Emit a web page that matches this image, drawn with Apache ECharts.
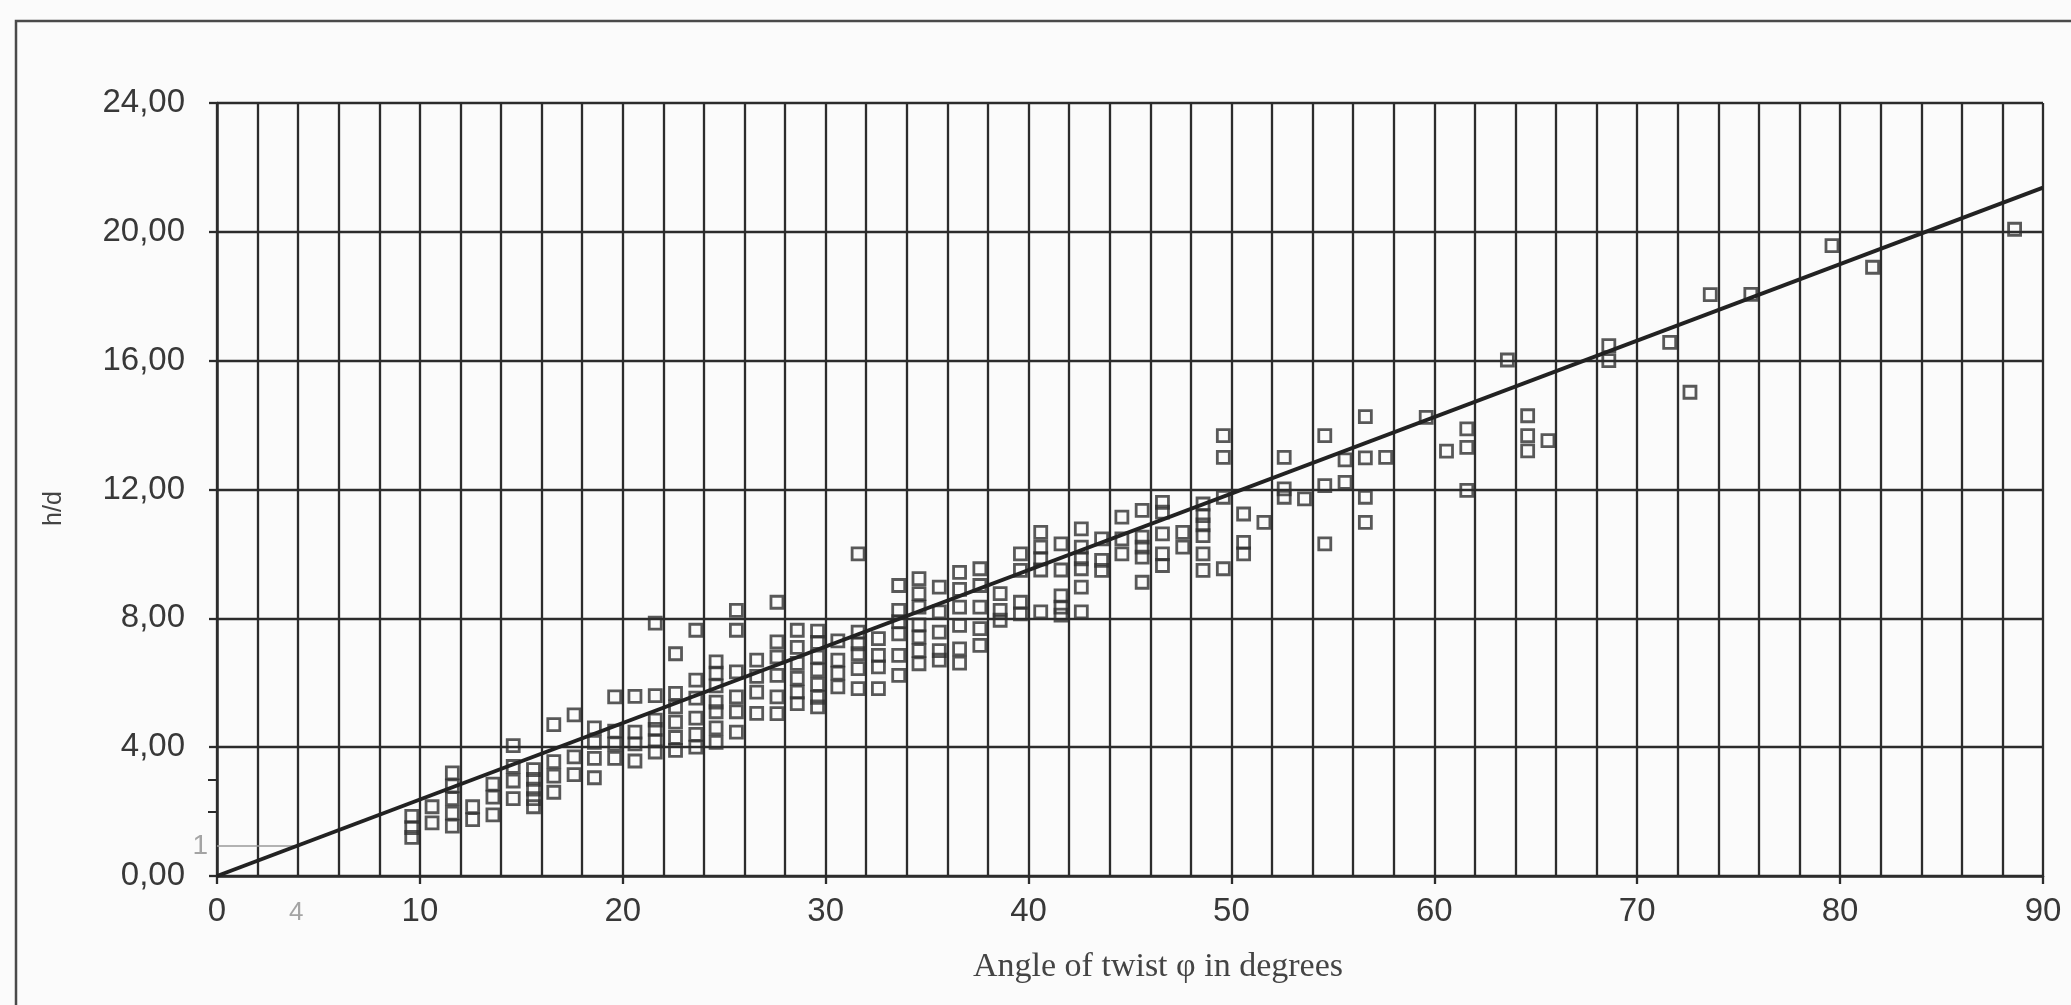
<!DOCTYPE html>
<html>
<head>
<meta charset="utf-8">
<script src="https://cdn.jsdelivr.net/npm/echarts@6/dist/echarts.min.js"></script>
<style>
html,body{margin:0;padding:0;background:#fbfbfb;}
#c{width:2071px;height:1005px;}
</style>
</head>
<body>
<div id="c"></div>
<script>
// Angle of twist (degrees) of each measured column of points
const columnAngles = [9.6, 10.6, 11.6, 12.6, 13.6, 14.6, 15.6, 16.6, 17.6, 18.6,
  19.6, 20.6, 21.6, 22.6, 23.6, 24.6, 25.6, 26.6, 27.6, 28.6,
  29.6, 30.6, 31.6, 32.6, 33.6, 34.6, 35.6, 36.6, 37.6, 38.6,
  39.6, 40.6, 41.6, 42.6, 43.6, 44.6, 45.6, 46.6, 47.6, 48.6,
  49.6, 50.6, 51.6, 52.6, 53.6, 54.6, 55.6, 56.6, 57.6, 59.6,
  60.6, 61.6, 63.6, 64.6, 65.6, 68.6, 71.6, 72.6, 73.6, 75.6,
  79.6, 81.6, 88.6];
// h/d values measured at each angle above
const columnHd = [
  [1.2, 1.5, 1.85],
  [2.15, 1.65],
  [3.2, 2.8, 2.4, 1.95, 1.55],
  [2.15, 1.75],
  [2.85, 2.45, 1.9],
  [4.05, 3.4, 2.95, 2.4],
  [3.3, 3.0, 2.7, 2.4, 2.15],
  [4.7, 3.55, 3.1, 2.6],
  [5.0, 3.7, 3.15],
  [4.6, 4.15, 3.65, 3.05],
  [5.56, 4.5, 4.1, 3.65],
  [5.58, 4.47, 4.1, 3.57],
  [7.85, 5.6, 4.84, 4.55, 4.2, 3.85],
  [6.9, 5.67, 5.25, 4.78, 4.3, 3.9],
  [7.63, 6.08, 5.52, 4.9, 4.4, 4.0],
  [6.65, 6.3, 5.9, 5.4, 5.1, 4.6, 4.15],
  [8.25, 7.63, 6.34, 5.56, 5.1, 4.47],
  [6.7, 6.2, 5.71, 5.05],
  [8.5, 7.27, 6.8, 6.23, 5.56, 5.04],
  [7.63, 7.1, 6.6, 6.14, 5.71, 5.35],
  [7.6, 7.25, 6.8, 6.4, 5.95, 5.55, 5.25],
  [7.3, 6.7, 6.3, 5.87],
  [10.0, 7.57, 7.21, 6.9, 6.44, 5.82],
  [7.37, 6.85, 6.49, 5.82],
  [9.02, 8.25, 7.9, 7.52, 6.85, 6.23],
  [9.23, 8.77, 8.35, 7.8, 7.42, 7.0, 6.59],
  [8.97, 8.2, 7.57, 7.0, 6.7],
  [9.43, 8.9, 8.35, 7.78, 7.05, 6.61],
  [9.54, 9.02, 8.35, 7.68, 7.16],
  [8.77, 8.25, 7.94],
  [10.0, 9.49, 8.5, 8.14],
  [10.67, 10.21, 9.85, 9.5, 8.2],
  [10.31, 9.5, 8.7, 8.35, 8.1],
  [10.78, 10.21, 9.85, 9.54, 8.97, 8.2],
  [10.47, 9.8, 9.49],
  [11.14, 10.47, 10.0],
  [11.35, 10.52, 10.21, 9.9, 9.12],
  [11.6, 11.3, 10.62, 10.0, 9.64],
  [10.67, 10.21],
  [11.55, 11.19, 10.9, 10.57, 10.0, 9.49],
  [13.67, 13.0, 11.76, 9.54],
  [11.24, 10.36, 10.0],
  [10.98],
  [13.0, 12.02, 11.76],
  [11.71],
  [13.67, 12.12, 10.31],
  [12.92, 12.22],
  [14.26, 12.98, 11.76, 10.98],
  [13.0],
  [14.24],
  [13.19],
  [13.88, 13.31, 11.97],
  [16.02],
  [14.29, 13.67, 13.2],
  [13.52],
  [16.47, 16.0],
  [16.57],
  [15.02],
  [18.05],
  [18.06],
  [19.57],
  [18.9],
  [20.08]
];
// Fitted straight line (end points)
const fitLine = [[0, 0], [90, 21.37]];
// Thin grey reading guide: h/d = 1 at an angle of about 4 degrees
const guideLine = [[0, 0.93], [3.85, 0.93]];
const guideLabels = [
  { value: [0, 0.93], name: '1', where: 'left' },
  { value: [3.9, 0], name: '4', where: 'bottom' }
];
const yMinorTicks = [2, 3];
const xTitle = 'Angle of twist \u03c6 in degrees';
const yTitle = 'h/d';

const points = [];
columnAngles.forEach((a, i) => columnHd[i].forEach(v => points.push([a, v])));

const gridColor = '#2c2c2c';
const labelColor = '#383838';

const chart = echarts.init(document.getElementById('c'), null, { renderer: 'canvas' });
chart.setOption({
  backgroundColor: '#fbfbfb',
  animation: false,
  graphic: [{
    type: 'rect', silent: true, z: -10,
    shape: { x: 16, y: 21, width: 2100, height: 1100 },
    style: { fill: 'none', stroke: '#4a4a4a', lineWidth: 2.5 }
  }],
  grid: { left: 217, right: 28, top: 103, bottom: 129 },
  xAxis: [{
    type: 'value', min: 0, max: 90, interval: 2,
    axisLine: { show: true, onZero: false, lineStyle: { color: gridColor, width: 2.5 } },
    axisTick: { show: false },
    axisLabel: { show: false },
    splitLine: { show: true, lineStyle: { color: gridColor, width: 2.3 } }
  }, {
    type: 'value', min: 0, max: 90, interval: 10, position: 'bottom',
    axisLine: { show: false },
    axisTick: { show: true, inside: false, length: 8, lineStyle: { color: gridColor, width: 2.3 } },
    axisLabel: { show: true, margin: 19, fontFamily: 'Liberation Sans', fontSize: 33, color: labelColor },
    splitLine: { show: false },
    name: xTitle, nameLocation: 'middle', nameGap: 74,
    nameTextStyle: { fontFamily: 'Liberation Serif', fontSize: 34, color: '#444', padding: [0, 0, 0, 56] }
  }],
  yAxis: [{
    type: 'value', min: 0, max: 24, interval: 4,
    axisLine: { show: true, onZero: false, lineStyle: { color: gridColor, width: 2.5 } },
    axisTick: { show: true, inside: false, length: 8, lineStyle: { color: gridColor, width: 2.3 } },
    axisLabel: {
      show: true, margin: 32, fontFamily: 'Liberation Sans', fontSize: 33, color: labelColor,
      formatter: v => v.toFixed(2).replace('.', ',')
    },
    splitLine: { show: true, lineStyle: { color: gridColor, width: 2.3 } },
    name: yTitle, nameLocation: 'middle', nameRotate: 90, nameGap: 150,
    nameTextStyle: { fontFamily: 'Liberation Sans', fontSize: 25, color: '#444', padding: [0, 38, 0, 0] }
  }, {
    type: 'value', min: 0, max: 24, interval: 4, position: 'left',
    axisLine: { show: false },
    axisTick: { show: true, inside: false, length: 9, customValues: yMinorTicks, lineStyle: { color: gridColor, width: 2 } },
    axisLabel: { show: false },
    splitLine: { show: false }
  }],
  series: [{
    type: 'scatter', xAxisIndex: 0, yAxisIndex: 0,
    data: points,
    symbol: 'rect', symbolSize: 12,
    itemStyle: { color: 'rgba(0,0,0,0)', borderColor: '#303030', borderWidth: 2.8 },
    z: 3
  }, {
    type: 'line', xAxisIndex: 0, yAxisIndex: 0,
    data: guideLine, symbol: 'none',
    lineStyle: { color: '#9a9a9a', width: 1.6 }, z: 2
  }, {
    type: 'scatter', xAxisIndex: 0, yAxisIndex: 0,
    data: guideLabels.map(d => ({
      value: d.value, name: d.name,
      label: d.where === 'left'
        ? { show: true, position: 'left', distance: 9, fontSize: 28 }
        : { show: true, position: 'bottom', distance: 24, fontSize: 26 }
    })),
    symbolSize: 0,
    label: { formatter: p => p.name, fontFamily: 'Liberation Sans', color: '#8f8f8f' },
    silent: true, z: 4
  }, {
    type: 'line', xAxisIndex: 0, yAxisIndex: 0,
    data: fitLine, symbol: 'none',
    lineStyle: { color: '#222', width: 4 }, z: 5
  }]
});
</script>
</body>
</html>
